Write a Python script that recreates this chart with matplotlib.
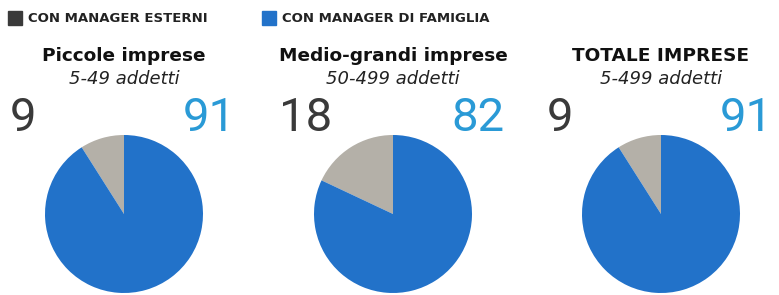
import matplotlib.pyplot as plt

W, H = 779, 295

titoli = ["Piccole imprese", "Medio-grandi imprese", "TOTALE IMPRESE"]
sottotitoli = ["5-49 addetti", "50-499 addetti", "5-499 addetti"]
esterni = [9, 18, 9]
famiglia = [91, 82, 91]
legenda = ["CON MANAGER ESTERNI", "CON MANAGER DI FAMIGLIA"]

col_grigio = "#b4b0a8"
col_blu = "#2272c9"
col_num_blu = "#2a9ad6"
col_scuro = "#3a3a3a"

fig = plt.figure(figsize=(W / 100, H / 100), dpi=100)
fig.patch.set_facecolor("white")

# legenda in alto
fig.patches.append(plt.Rectangle((8 / W, 1 - 25 / H), 14 / W, 14 / H,
                                 transform=fig.transFigure, color=col_scuro))
fig.text(28 / W, 1 - 18 / H, legenda[0], fontsize=9.5, fontweight="bold",
         va="center", ha="left", color="#222222")
fig.patches.append(plt.Rectangle((262 / W, 1 - 25 / H), 14 / W, 14 / H,
                                 transform=fig.transFigure, color=col_blu))
fig.text(282 / W, 1 - 18 / H, legenda[1], fontsize=9.5, fontweight="bold",
         va="center", ha="left", color="#222222")

centri = [124, 393, 661]
cy = 214
r = 79

for i in range(3):
    cx = centri[i]
    fig.text(cx / W, 1 - 56 / H, titoli[i], fontsize=13.3, fontweight="bold",
             ha="center", va="center", color="#111111")
    fig.text(cx / W, 1 - 79 / H, sottotitoli[i], fontsize=13, style="italic",
             ha="center", va="center", color="#222222")
    fig.text((cx - 114) / W, 1 - 118 / H, str(esterni[i]), fontsize=34,
             fontweight="normal", ha="left", va="center", color=col_scuro,
             family="Roboto")
    fig.text((cx + 112) / W, 1 - 118 / H, str(famiglia[i]), fontsize=34,
             fontweight="normal", ha="right", va="center", color=col_num_blu,
             family="Roboto")

    ax = fig.add_axes([(cx - r) / W, (H - cy - r) / H, 2 * r / W, 2 * r / H])
    ax.pie([esterni[i], famiglia[i]], colors=[col_grigio, col_blu],
           startangle=90, counterclock=True, radius=1)
    ax.set_xlim(-1, 1)
    ax.set_ylim(-1, 1)
    ax.set_aspect("equal")
    ax.axis("off")

fig.savefig("out.png", dpi=100)
